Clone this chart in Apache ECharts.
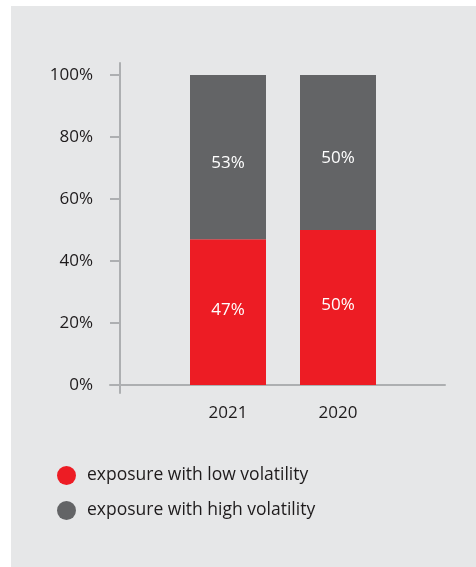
<!DOCTYPE html>
<html>
<head>
<meta charset="utf-8">
<script src="https://cdn.jsdelivr.net/npm/echarts@6/dist/echarts.min.js"></script>
<style>
  html, body { margin: 0; padding: 0; background: #ffffff; }
  #panel { position: absolute; left: 11px; top: 6px; width: 465px; height: 561px; background: #E6E7E8; }
  #chart { position: absolute; left: 0; top: 0; width: 476px; height: 567px; }
</style>
</head>
<body>
<div id="panel"></div>
<div id="chart"></div>
<script>
// Share of exposure by volatility, per year
const years = ['2021', '2020'];
const lowVolatility = [47, 50];
const highVolatility = [53, 50];
const seriesNames = ['exposure with low volatility', 'exposure with high volatility'];
const yTicks = [0, 20, 40, 60, 80, 100];

const FONT = '"Open Sans", sans-serif';
const RED = '#ED1C24';
const GREY = '#636466';
const AXIS = '#ADAFB1';
const TEXT = '#1E1B1C';

const chart = echarts.init(document.getElementById('chart'), null, { renderer: 'canvas' });

chart.setOption({
  backgroundColor: 'transparent',
  textStyle: { fontFamily: FONT },
  legend: {
    orient: 'vertical',
    left: 52,
    top: 461,
    icon: 'circle',
    itemWidth: 19,
    itemHeight: 19,
    itemGap: 16,
    selectedMode: false,
    textStyle: { fontFamily: FONT, fontSize: 17.5, color: TEXT, padding: [0, 0, 0, 6] },
    data: seriesNames
  },
  grid: [
    // bars, ticks and labels
    { left: 173, right: 83, top: 75, bottom: 182 },
    // axis lines that run past the plot area
    { left: 110, right: 31, top: 63, bottom: 174 }
  ],
  xAxis: [
    {
      gridIndex: 0,
      type: 'category',
      data: years,
      boundaryGap: true,
      axisLine: { show: false },
      axisTick: { show: false },
      axisLabel: { color: TEXT, fontSize: 17, fontFamily: FONT, margin: 20 }
    },
    {
      gridIndex: 1,
      type: 'value',
      min: 0,
      max: 1,
      axisLine: { show: true, onZero: true, lineStyle: { color: AXIS, width: 2 } },
      axisTick: { show: false },
      axisLabel: { show: false },
      splitLine: { show: false }
    }
  ],
  yAxis: [
    {
      gridIndex: 0,
      type: 'value',
      min: 0,
      max: 100,
      interval: 20,
      offset: 53,
      axisLine: { show: false },
      axisTick: { show: true, length: 10, lineStyle: { color: AXIS, width: 2 } },
      axisLabel: {
        color: TEXT, fontSize: 17, fontFamily: FONT, margin: 27,
        customValues: yTicks,
        formatter: v => v + '%'
      },
      splitLine: { show: false }
    },
    {
      gridIndex: 1,
      type: 'value',
      min: -8,
      max: 322,
      offset: -10,
      axisLine: { show: true, onZero: false, lineStyle: { color: AXIS, width: 2 } },
      axisTick: { show: false },
      axisLabel: { show: false },
      splitLine: { show: false }
    }
  ],
  series: [
    {
      name: seriesNames[0],
      type: 'bar',
      stack: 'share',
      xAxisIndex: 0,
      yAxisIndex: 0,
      barWidth: 76,
      data: lowVolatility,
      itemStyle: { color: RED },
      label: { show: true, position: 'inside', offset: [0, -2], color: '#ffffff', fontSize: 17, fontFamily: FONT, formatter: '{c}%' },
      silent: true
    },
    {
      name: seriesNames[1],
      type: 'bar',
      stack: 'share',
      xAxisIndex: 0,
      yAxisIndex: 0,
      barWidth: 76,
      data: highVolatility,
      itemStyle: { color: GREY },
      label: { show: true, position: 'inside', offset: [0, 6], color: '#ffffff', fontSize: 17, fontFamily: FONT, formatter: '{c}%' },
      silent: true
    }
  ]
});
</script>
</body>
</html>
